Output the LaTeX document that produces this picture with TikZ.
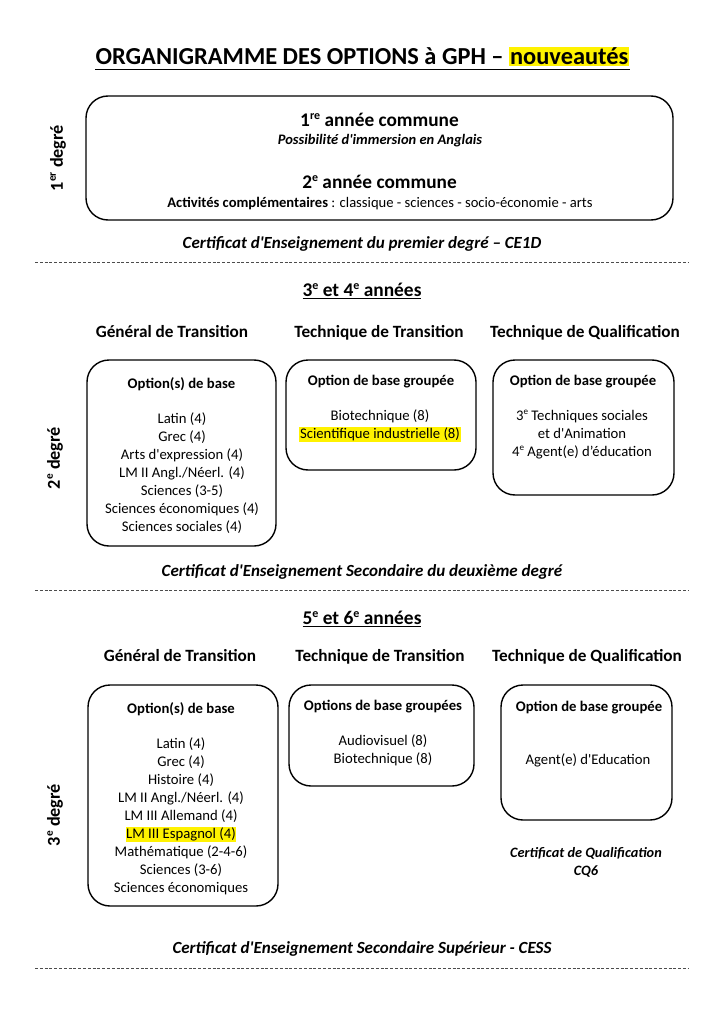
\documentclass[tikz,border=0pt]{standalone}
\usepackage{graphicx}
\usepackage{fontspec}
\setmainfont{Carlito}[Ligatures=TeXOff]
\setlength{\fboxsep}{1pt}
\newcommand{\mysup}[1]{\raisebox{0.38em}{\scalebox{0.62}{#1}}}
\begin{document}
\begin{tikzpicture}[x=1pt,y=-1pt,
  optbox/.style={draw, line width=1.4pt, rounded corners=22pt, inner sep=0pt},
  item/.style={font=\fontsize{14.7}{17}\selectfont, anchor=base, inner sep=0.6pt, text height=10.8pt, text depth=3.8pt},
  hl/.style={item, fill=yellow},
  boxhead/.style={font=\bfseries\fontsize{14.7}{17}\selectfont, anchor=base, inner sep=0pt},
  colhead/.style={font=\bfseries\fontsize{17.2}{20}\selectfont, anchor=base, inner sep=0pt},
  cert/.style={font=\bfseries\itshape\fontsize{17}{20}\selectfont, anchor=base, inner sep=0pt},
  sect/.style={font=\bfseries\fontsize{19.4}{22}\selectfont, anchor=base, inner sep=0pt},
  year/.style={font=\bfseries\fontsize{19.3}{23}\selectfont, anchor=base, inner sep=0pt},
  degree/.style={font=\bfseries\fontsize{18.2}{21}\selectfont, rotate=90, inner sep=0pt},
  sepline/.style={dash pattern=on 3pt off 1.8pt, line width=0.6pt, black!70}
]
\useasboundingbox[fill=white] (0,0) rectangle (724,1024);

% Title
\node[font=\bfseries\fontsize{24.4}{28}\selectfont, anchor=base, inner sep=0pt] (title) at (362.5,65)
  {ORGANIGRAMME DES OPTIONS à GPH – \colorbox{yellow}{nouveautés}};
\draw[line width=1.4pt] ([yshift=-4.5pt]title.base west) -- ([yshift=-4.5pt]title.base east);

% 1er degre
\node[optbox, minimum width=587pt, minimum height=124pt] (b1) at (379.5,158) {};
\node[year] (y1) at (379.5,126.5) {1\mysup{re} année commune};
\node[font=\bfseries\itshape\fontsize{14.5}{17}\selectfont, anchor=base, inner sep=0pt] (imm) at (380,144.5) {Possibilité d'immersion en Anglais};
\node[year] (y2) at (379.5,189) {2\mysup{e} année commune};
\node[font=\fontsize{14.6}{17}\selectfont, anchor=base, inner sep=0pt] (act) at (380,208) {\textbf{Activités complémentaires} : classique - sciences - socio-économie - arts};
\node[degree] (d1) at (58,158) {1\mysup{er} degré};
\node[cert] (c1) at (362,248) {Certificat d'Enseignement du premier degré – CE1D};
\coordinate (s1l) at (35,262); \coordinate (s1r) at (688,262);
\draw[sepline] (s1l) -- (s1r);

% 2e degre
\node[sect] (t34) at (362,296.5) {\underline{3\mysup{e} et 4\mysup{e} années}};
\node[colhead] (h1a) at (172,337) {Général de Transition};
\node[colhead] (h1b) at (379,337) {Technique de Transition};
\node[colhead] (h1c) at (585,337) {Technique de Qualification};

\node[optbox, minimum width=189pt, minimum height=186pt] (gt1) at (181.5,453) {};
\node[optbox, minimum width=190pt, minimum height=110pt] (tt1) at (381,415) {};
\node[optbox, minimum width=181pt, minimum height=135pt] (tq1) at (583.5,427.5) {};

\node[boxhead] (gt1h) at (181.5,388) {Option(s) de base};
\node[item] (gt1a) at (182,423) {Latin (4)};
\node[item] (gt1b) at (182,441) {Grec (4)};
\node[item] (gt1c) at (182,459) {Arts d'expression (4)};
\node[item] (gt1d) at (182,477) {LM II Angl./Néerl. (4)};
\node[item] (gt1e) at (182,495) {Sciences (3-5)};
\node[item] (gt1f) at (182,513) {Sciences économiques (4)};
\node[item] (gt1g) at (182,531) {Sciences sociales (4)};

\node[boxhead] (tt1h) at (381,385) {Option de base groupée};
\node[item] (tt1a) at (380,420) {Biotechnique (8)};
\node[hl] (tt1b) at (380,438) {Scientifique industrielle (8)};

\node[boxhead] (tq1h) at (583,385) {Option de base groupée};
\node[item] (tq1a) at (582,420) {3\mysup{e} Techniques sociales};
\node[item] (tq1b) at (582,438) {et d'Animation};
\node[item] (tq1c) at (582,456) {4\mysup{e} Agent(e) d’éducation};

\node[degree] (d2) at (55,458) {2\mysup{e} degré};
\node[cert] (c2) at (362,576) {Certificat d'Enseignement Secondaire du deuxième degré};
\coordinate (s2l) at (35,590); \coordinate (s2r) at (688,590);
\draw[sepline] (s2l) -- (s2r);

% 3e degre
\node[sect] (t56) at (362,624.5) {\underline{5\mysup{e} et 6\mysup{e} années}};
\node[colhead] (h2a) at (180,661) {Général de Transition};
\node[colhead] (h2b) at (380,661) {Technique de Transition};
\node[colhead] (h2c) at (587,661) {Technique de Qualification};

\node[optbox, minimum width=190pt, minimum height=221pt] (gt2) at (183,795.5) {};
\node[optbox, minimum width=185pt, minimum height=101pt] (tt2) at (381.5,735.5) {};
\node[optbox, minimum width=171pt, minimum height=135pt] (tq2) at (586.5,752.5) {};

\node[boxhead] (gt2h) at (181,713) {Option(s) de base};
\node[item] (gt2a) at (181,748) {Latin (4)};
\node[item] (gt2b) at (181,766) {Grec (4)};
\node[item] (gt2c) at (181,784) {Histoire (4)};
\node[item] (gt2d) at (181,802) {LM II Angl./Néerl. (4)};
\node[item] (gt2e) at (181,820) {LM III Allemand (4)};
\node[hl] (gt2f) at (181,838) {LM III Espagnol (4)};
\node[item] (gt2g) at (181,856) {Mathématique (2-4-6)};
\node[item] (gt2h2) at (181,874) {Sciences (3-6)};
\node[item] (gt2i) at (181,892) {Sciences économiques};

\node[boxhead] (tt2h) at (383,710) {Options de base groupées};
\node[item] (tt2a) at (383,745) {Audiovisuel (8)};
\node[item] (tt2b) at (383,763) {Biotechnique (8)};

\node[boxhead] (tq2h) at (589,711) {Option de base groupée};
\node[item] (tq2a) at (588,764) {Agent(e) d'Education};

\node[cert, font=\bfseries\itshape\fontsize{14.3}{17}\selectfont] (cq1) at (586,857) {Certificat de Qualification};
\node[cert, font=\bfseries\itshape\fontsize{14.3}{17}\selectfont] (cq2) at (586,875) {CQ6};

\node[degree] (d3) at (55,815) {3\mysup{e} degré};
\node[cert] (c3) at (362,953) {Certificat d'Enseignement Secondaire Supérieur - CESS};
\coordinate (s3l) at (35,968); \coordinate (s3r) at (688,968);
\draw[sepline] (s3l) -- (s3r);
\end{tikzpicture}
\end{document}
